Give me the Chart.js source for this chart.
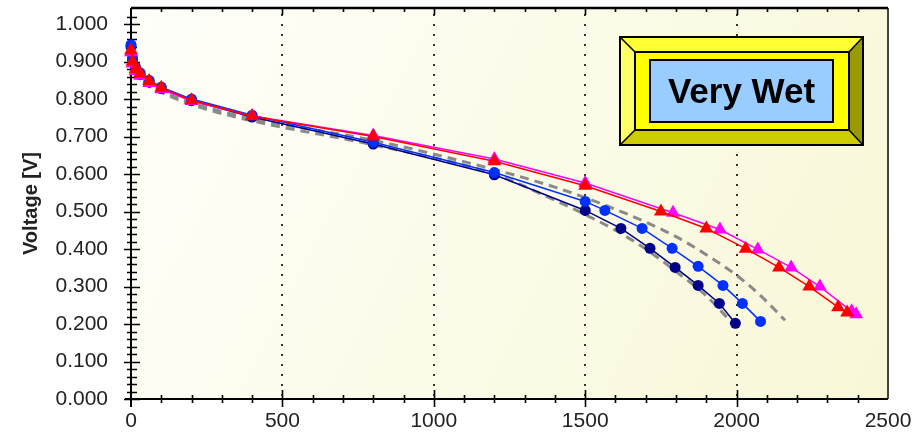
<!DOCTYPE html>
<html>
<head>
<meta charset="utf-8">
<script src="https://cdn.jsdelivr.net/npm/chart.js@4.4.0/dist/chart.umd.min.js"></script>
<style>
  html, body { margin: 0; padding: 0; background: #fff; }
  #wrap { width: 922px; height: 437px; }
</style>
</head>
<body>
<div id="wrap"><canvas id="grafico" width="922" height="437"></canvas></div>
<script>
// current [mA/cm2] and voltage [V]
const xTicks = [0, 500, 1000, 1500, 2000, 2500];
const yTicks = [0, 0.1, 0.2, 0.3, 0.4, 0.5, 0.6, 0.7, 0.8, 0.9, 1.0];

const redI = [0, 5, 15, 30, 60, 100, 200, 400, 800, 1200, 1500, 1750, 1900, 2030, 2140, 2240, 2335, 2365];
const redV = [0.930, 0.900, 0.880, 0.868, 0.848, 0.830, 0.797, 0.754, 0.700, 0.634, 0.569, 0.500, 0.455, 0.401, 0.351, 0.300, 0.245, 0.231];

const magI = [0, 5, 15, 30, 60, 100, 200, 400, 800, 1200, 1500, 1790, 1945, 2070, 2180, 2275, 2380, 2395];
const magV = [0.925, 0.895, 0.875, 0.862, 0.843, 0.826, 0.795, 0.755, 0.703, 0.640, 0.576, 0.497, 0.452, 0.399, 0.351, 0.300, 0.234, 0.226];

const blueI = [0, 5, 15, 30, 60, 100, 200, 400, 800, 1200, 1500, 1565, 1688, 1787, 1873, 1955, 2019, 2079];
const blueV = [0.945, 0.910, 0.885, 0.870, 0.850, 0.832, 0.800, 0.757, 0.685, 0.604, 0.527, 0.503, 0.455, 0.402, 0.354, 0.303, 0.255, 0.207];

const navyI = [0, 5, 15, 30, 60, 100, 200, 400, 800, 1200, 1500, 1618, 1714, 1797, 1873, 1943, 1996];
const navyV = [0.940, 0.905, 0.880, 0.865, 0.845, 0.828, 0.796, 0.752, 0.680, 0.598, 0.503, 0.455, 0.402, 0.351, 0.303, 0.255, 0.202];

// gray dashed model curves
const fit1I = [0, 20, 60, 100, 200, 400, 800, 1200, 1400, 1500, 1600, 1700, 1800, 1900, 2000];
const fit1V = [0.915, 0.865, 0.835, 0.818, 0.785, 0.742, 0.678, 0.600, 0.530, 0.492, 0.450, 0.400, 0.340, 0.275, 0.190];

const fit2I = [0, 20, 60, 100, 200, 400, 800, 1200, 1400, 1550, 1700, 1800, 1900, 2000, 2080, 2160];
const fit2V = [0.920, 0.870, 0.840, 0.822, 0.790, 0.748, 0.690, 0.612, 0.565, 0.522, 0.472, 0.433, 0.385, 0.330, 0.275, 0.210];

const boxText = 'Very Wet';

function pts(xs, ys) {
    return xs.map((x, i) => ({ x: x, y: ys[i] }));
}

// fundo, grade pontilhada, eixos e marcas
const framePlugin = {
    id: 'frame',
    beforeDatasetsDraw(chart) {
        const ctx = chart.ctx;
        const a = chart.chartArea;
        const sx = chart.scales.x, sy = chart.scales.y;
        ctx.save();
        const g = ctx.createLinearGradient(a.left, a.top, a.right, a.bottom);
        g.addColorStop(0, '#fffffb');
        g.addColorStop(1, '#f8f7d6');
        ctx.fillStyle = g;
        ctx.fillRect(a.left, a.top, a.right - a.left, a.bottom - a.top);

        // dotted grid
        ctx.strokeStyle = '#333';
        ctx.lineWidth = 2;
        ctx.setLineDash([2, 8]);
        xTicks.slice(1, -1).forEach(v => {
            const px = Math.round(sx.getPixelForValue(v));
            ctx.beginPath();
            ctx.moveTo(px, a.top + 6);
            ctx.lineTo(px, a.bottom);
            ctx.stroke();
        });
        ctx.setLineDash([]);

        // right border
        ctx.strokeStyle = '#444';
        ctx.lineWidth = 2;
        ctx.beginPath();
        ctx.moveTo(a.right, a.top);
        ctx.lineTo(a.right, a.bottom);
        ctx.stroke();

        ctx.strokeStyle = '#000';
        // top border
        ctx.lineWidth = 2.5;
        ctx.beginPath();
        ctx.moveTo(a.left, a.top);
        ctx.lineTo(a.right, a.top);
        ctx.stroke();
        // left and bottom axis
        ctx.lineWidth = 2;
        ctx.beginPath();
        ctx.moveTo(a.left, a.top);
        ctx.lineTo(a.left, a.bottom + 8);
        ctx.moveTo(a.left - 6, a.bottom);
        ctx.lineTo(a.right, a.bottom);
        ctx.stroke();

        ctx.lineWidth = 1.6;
        ctx.beginPath();
        // y ticks, every 0.02
        for (let k = 0; k <= 104; k += 2) {
            const py = Math.round(sy.getPixelForValue(k / 100)) + 0.5;
            if (py < a.top + 2) continue;
            const major = k % 10 === 0;
            ctx.moveTo(a.left - (major ? 7 : 4), py);
            ctx.lineTo(a.left + (major ? 9 : 6), py);
        }
        // x ticks (bottom and top)
        for (let v = 100; v < 2500; v += 100) {
            const px = Math.round(sx.getPixelForValue(v)) + 0.5;
            const major = v % 500 === 0;
            ctx.moveTo(px, a.bottom - (major ? 9 : 4));
            ctx.lineTo(px, a.bottom + (major ? 8 : 4));
            ctx.moveTo(px, a.top);
            ctx.lineTo(px, a.top + (major ? 7 : 4));
        }
        ctx.stroke();
        ctx.restore();
    },
    afterDraw(chart) {
        // caixa "Very Wet"
        const ctx = chart.ctx;
        const o = { l: 620, t: 37, r: 863, b: 145 };
        const i = { l: 635, t: 52, r: 849, b: 130 };
        const c = { l: 650, t: 60, r: 833, b: 122 };
        ctx.save();
        const face = (pts, col) => {
            ctx.beginPath();
            ctx.moveTo(pts[0][0], pts[0][1]);
            pts.slice(1).forEach(p => ctx.lineTo(p[0], p[1]));
            ctx.closePath();
            ctx.fillStyle = col;
            ctx.fill();
        };
        face([[o.l, o.t], [o.r, o.t], [i.r, i.t], [i.l, i.t]], '#ffff33');
        face([[o.l, o.t], [i.l, i.t], [i.l, i.b], [o.l, o.b]], '#ffff66');
        face([[o.r, o.t], [o.r, o.b], [i.r, i.b], [i.r, i.t]], '#999900');
        face([[o.l, o.b], [i.l, i.b], [i.r, i.b], [o.r, o.b]], '#cccc00');
        ctx.fillStyle = '#ffff00';
        ctx.fillRect(i.l, i.t, i.r - i.l, i.b - i.t);
        ctx.fillStyle = '#99ccff';
        ctx.fillRect(c.l, c.t, c.r - c.l, c.b - c.t);

        ctx.strokeStyle = '#000';
        ctx.lineWidth = 2;
        ctx.strokeRect(o.l, o.t, o.r - o.l, o.b - o.t);
        ctx.strokeRect(i.l, i.t, i.r - i.l, i.b - i.t);
        ctx.strokeRect(c.l, c.t, c.r - c.l, c.b - c.t);
        ctx.lineWidth = 1.5;
        ctx.beginPath();
        ctx.moveTo(o.l, o.t); ctx.lineTo(i.l, i.t);
        ctx.moveTo(o.r, o.t); ctx.lineTo(i.r, i.t);
        ctx.moveTo(o.l, o.b); ctx.lineTo(i.l, i.b);
        ctx.moveTo(o.r, o.b); ctx.lineTo(i.r, i.b);
        ctx.stroke();

        ctx.fillStyle = '#000';
        ctx.font = 'bold 35px "Liberation Sans", Arial, sans-serif';
        ctx.textAlign = 'center';
        ctx.textBaseline = 'middle';
        ctx.fillText(boxText, (c.l + c.r) / 2, (c.t + c.b) / 2 + 2);
        ctx.restore();
    }
};

const tickFont = { family: '"Liberation Sans", Arial, sans-serif', size: 21 };

new Chart(document.getElementById('grafico'), {
    type: 'line',
    data: {
        datasets: [
            {
                label: 'red', data: pts(redI, redV),
                borderColor: '#ff0000', backgroundColor: '#ff0000', borderWidth: 1.5,
                pointStyle: 'triangle', pointRadius: 8, pointBorderWidth: 0, clip: 10
            },
            {
                label: 'magenta', data: pts(magI, magV),
                borderColor: '#ff00ff', backgroundColor: '#ff00ff', borderWidth: 1.5,
                pointStyle: 'triangle', pointRadius: 8, pointBorderWidth: 0, clip: 10
            },
            {
                label: 'blue', data: pts(blueI, blueV),
                borderColor: '#0030ff', backgroundColor: '#0030ff', borderWidth: 1.5,
                pointStyle: 'circle', pointRadius: 5.5, pointBorderWidth: 0, clip: 10
            },
            {
                label: 'navy', data: pts(navyI, navyV),
                borderColor: '#000088', backgroundColor: '#000088', borderWidth: 1.5,
                pointStyle: 'circle', pointRadius: 5.5, pointBorderWidth: 0, clip: 10
            },
            {
                label: 'fit1', data: pts(fit1I, fit1V),
                borderColor: '#8a8a8a', borderWidth: 3, borderDash: [9, 6],
                pointRadius: 0, cubicInterpolationMode: 'monotone'
            },
            {
                label: 'fit2', data: pts(fit2I, fit2V),
                borderColor: '#8a8a8a', borderWidth: 3, borderDash: [9, 6],
                pointRadius: 0, cubicInterpolationMode: 'monotone'
            }
        ]
    },
    options: {
        responsive: false,
        animation: false,
        devicePixelRatio: 1,
        layout: { padding: { top: 1, right: 34, left: 0, bottom: 0 } },
        plugins: { legend: { display: false }, tooltip: { enabled: false } },
        elements: { line: { tension: 0 } },
        scales: {
            x: {
                type: 'linear', min: 0, max: 2500,
                afterBuildTicks: s => { s.ticks = xTicks.map(v => ({ value: v })); },
                afterFit: s => { s.height = 38; s.paddingLeft = 0; s.paddingRight = 0; },
                grid: { display: false, drawTicks: false },
                border: { display: false },
                ticks: { font: tickFont, color: '#222', padding: 10, maxRotation: 0, callback: v => String(v) }
            },
            y: {
                type: 'linear', min: 0, max: 1.043,
                afterBuildTicks: s => { s.ticks = yTicks.map(v => ({ value: v })); },
                afterFit: s => { s.width = 131; s.paddingTop = 0; s.paddingBottom = 0; },
                grid: { display: false, drawTicks: false },
                border: { display: false },
                ticks: { font: tickFont, color: '#222', padding: 23, callback: v => v.toFixed(3) },
                title: {
                    display: true, text: 'Voltage [V]', color: '#222',
                    font: { family: '"Liberation Sans", Arial, sans-serif', size: 20, weight: 'bold' },
                    padding: { top: 19, bottom: 0 }
                }
            }
        }
    },
    plugins: [framePlugin]
});
</script>
</body>
</html>
